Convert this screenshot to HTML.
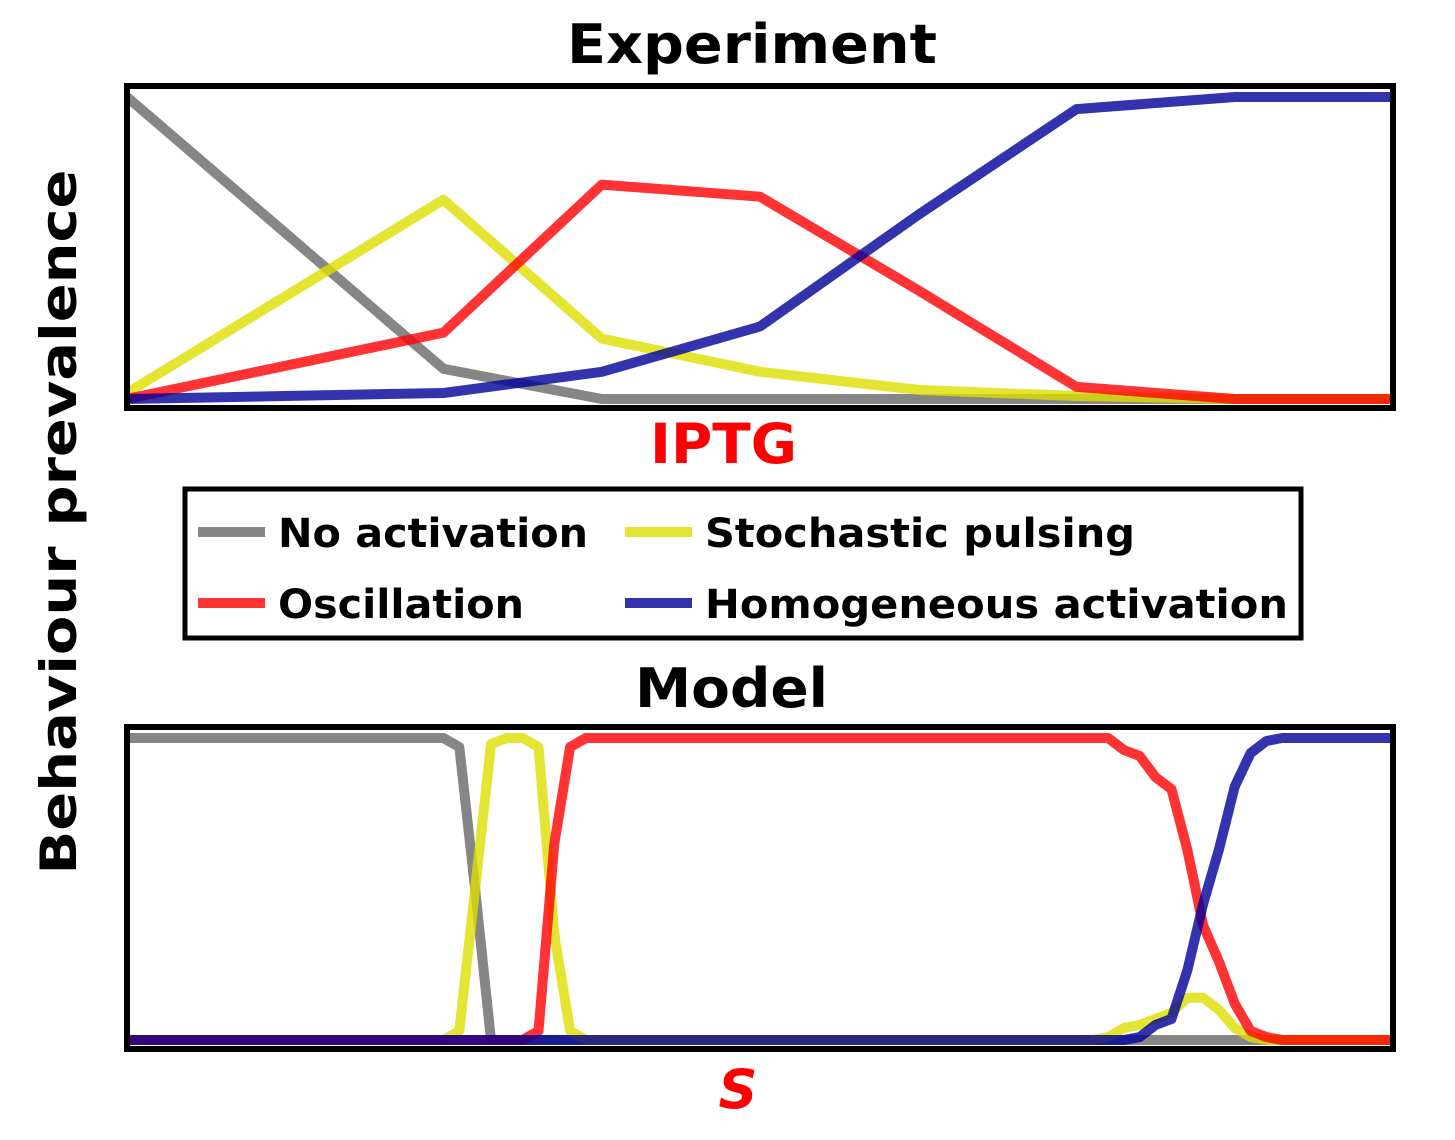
<!DOCTYPE html>
<html><head><meta charset="utf-8"><style>
html,body{margin:0;padding:0;background:#fff;}
svg text{font-family:"DejaVu Sans","Liberation Sans",sans-serif;font-weight:bold;}
</style></head><body>
<svg id="chart" width="1455" height="1135" viewBox="0 0 1455 1135" xmlns="http://www.w3.org/2000/svg">
<text x="567" y="63" font-size="54" textLength="370" lengthAdjust="spacingAndGlyphs">Experiment</text>
<text transform="translate(76,522) rotate(-90)" font-size="50" text-anchor="middle" textLength="705" lengthAdjust="spacingAndGlyphs">Behaviour prevalence</text>
<g id="top"></g>
<text x="650" y="463" font-size="55" fill="#ff0000" textLength="147" lengthAdjust="spacingAndGlyphs">IPTG</text>
<g>
<rect x="185" y="489" width="1116" height="149" fill="#fff" stroke="#000" stroke-width="5"/>
<line x1="198" y1="532" x2="265" y2="532" stroke="#808080" stroke-opacity="0.95" stroke-width="10"/>
<text x="278" y="547" font-size="40" textLength="310" lengthAdjust="spacingAndGlyphs">No activation</text>
<line x1="198" y1="603" x2="265" y2="603" stroke="#ff0000" stroke-opacity="0.8" stroke-width="10"/>
<text x="278" y="618" font-size="40" textLength="246" lengthAdjust="spacingAndGlyphs">Oscillation</text>
<line x1="625" y1="532" x2="692" y2="532" stroke="#dddd00" stroke-opacity="0.8" stroke-width="10"/>
<text x="705" y="547" font-size="40" textLength="430" lengthAdjust="spacingAndGlyphs">Stochastic pulsing</text>
<line x1="625" y1="603" x2="692" y2="603" stroke="#000099" stroke-opacity="0.8" stroke-width="10"/>
<text x="705" y="618" font-size="40" textLength="583" lengthAdjust="spacingAndGlyphs">Homogeneous activation</text>
</g>
<text x="635" y="707" font-size="54" textLength="193" lengthAdjust="spacingAndGlyphs">Model</text>
<g id="bottom"></g>
<text x="738" y="1108" font-size="54" fill="#ff0000" font-style="italic" text-anchor="middle">S</text>
</svg>
<script>
// Experiment data (9 IPTG levels)
const expNoAct = [1.0, 0.55, 0.10, 0, 0, 0, 0, 0, 0];
const expStoch = [0.02, 0.34, 0.66, 0.20, 0.09, 0.03, 0.01, 0, 0];
const expOsc = [0.0, 0.11, 0.22, 0.71, 0.67, 0.36, 0.04, 0, 0];
const expHom = [0, 0.01, 0.02, 0.09, 0.24, 0.61, 0.96, 1.0, 1.0];
// Model data (81 S levels)
const modNoAct = [1,1,1,1,1,1,1,1,1,1,1,1,1,1,1,1,1,1,1,1,1,0.97,0.5,0,0,0,0,0,0,0,0,0,0,0,0,0,0,0,0,0,0,0,0,0,0,0,0,0,0,0,0,0,0,0,0,0,0,0,0,0,0,0,0,0,0,0,0,0,0,0,0,0,0,0,0,0,0,0,0,0,0];
const modStoch = [0,0,0,0,0,0,0,0,0,0,0,0,0,0,0,0,0,0,0,0,0,0.03,0.5,0.98,1,1,0.97,0.35,0.03,0,0,0,0,0,0,0,0,0,0,0,0,0,0,0,0,0,0,0,0,0,0,0,0,0,0,0,0,0,0,0,0,0,0.01,0.04,0.05,0.07,0.09,0.14,0.14,0.1,0.04,0.01,0,0,0,0,0,0,0,0,0];
const modOsc = [0,0,0,0,0,0,0,0,0,0,0,0,0,0,0,0,0,0,0,0,0,0,0,0,0,0,0.03,0.65,0.97,1,1,1,1,1,1,1,1,1,1,1,1,1,1,1,1,1,1,1,1,1,1,1,1,1,1,1,1,1,1,1,1,1,1,0.96,0.94,0.87,0.83,0.63,0.38,0.26,0.12,0.03,0.01,0,0,0,0,0,0,0,0];
const modHom = [0,0,0,0,0,0,0,0,0,0,0,0,0,0,0,0,0,0,0,0,0,0,0,0,0,0,0,0,0,0,0,0,0,0,0,0,0,0,0,0,0,0,0,0,0,0,0,0,0,0,0,0,0,0,0,0,0,0,0,0,0,0,0,0,0.01,0.05,0.07,0.23,0.45,0.63,0.84,0.95,0.99,1,1,1,1,1,1,1,1];

const NS='http://www.w3.org/2000/svg';
const styles = [
  {name:'no-activation', color:'#808080', op:0.95},
  {name:'stochastic-pulsing', color:'#dddd00', op:0.8},
  {name:'oscillation', color:'#ff0000', op:0.8},
  {name:'homogeneous-activation', color:'#000099', op:0.8}
];
function panel(gid, top, bottom, series, prefix){
  const g=document.getElementById(gid);
  const x0=127,x1=1393,yZero=bottom-9,yOne=top+11;
  const n=series[0].length;
  const xs=i=>x0+(x1-x0)*i/(n-1);
  const ys=v=>yZero-(yZero-yOne)*v;
  const clip=document.createElementNS(NS,'clipPath');
  clip.setAttribute('id','clip-'+gid);
  const cr=document.createElementNS(NS,'rect');
  cr.setAttribute('x',x0);cr.setAttribute('y',top);cr.setAttribute('width',x1-x0);cr.setAttribute('height',bottom-top);
  clip.appendChild(cr);g.appendChild(clip);
  series.forEach((s,k)=>{
    const p=document.createElementNS(NS,'polyline');
    
    
    p.setAttribute('points',s.map((v,i)=>xs(i).toFixed(1)+','+ys(v).toFixed(1)).join(' '));
    p.setAttribute('fill','none');p.setAttribute('stroke',styles[k].color);
    p.setAttribute('stroke-opacity',styles[k].op);p.setAttribute('stroke-width','10');
    p.setAttribute('stroke-linejoin','round');
    p.setAttribute('clip-path','url(#clip-'+gid+')');
    g.appendChild(p);
  });
  const f=document.createElementNS(NS,'rect');
  
  
  f.setAttribute('x',x0);f.setAttribute('y',top);f.setAttribute('width',x1-x0);f.setAttribute('height',bottom-top);
  f.setAttribute('fill','none');f.setAttribute('stroke','#000');f.setAttribute('stroke-width','6');
  g.appendChild(f);
}
panel('top',86,408,[expNoAct,expStoch,expOsc,expHom],'experiment');
panel('bottom',727,1049,[modNoAct,modStoch,modOsc,modHom],'model');
</script>
</body></html>
